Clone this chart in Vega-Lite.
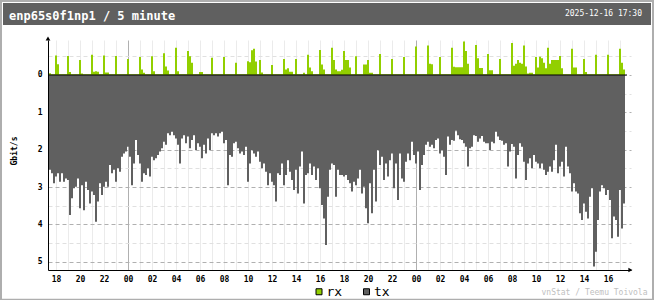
{
"$schema":"https://vega.github.io/schema/vega-lite/v6.json",
"width":583,"height":230,
"autosize":{"type":"none"},
"padding":{"left":48,"top":40,"right":23,"bottom":30},
"background":"white",
"config":{
 "view":{"stroke":null},
 "axis":{"labelFont":"DejaVu Sans Mono","labelFontSize":8,"labelFontWeight":"bold","labelColor":"#000","titleFont":"DejaVu Sans Mono","titleFontSize":8,"domainColor":"#000","domainWidth":1,"ticks":false,"tickSize":0,"labelOverlap":false,"labelFlush":false},
 "axisX":{"labelOverlap":false,"labelFlush":false,"labelPadding":5,"grid":true,"gridWidth":1,"tickCount":100}
},
"data":{"values":[
{"min":-395,"rx":0.05,"tx":2.54},{"min":-385,"rx":0.02,"tx":2.63},{"min":-375,"rx":0.02,"tx":2.90},{"min":-365,"rx":0.52,"tx":2.72},{"min":-355,"rx":0.29,"tx":2.63},{"min":-345,"rx":0.02,"tx":2.86},{"min":-335,"rx":0.02,"tx":2.63},{"min":-325,"rx":0.02,"tx":2.86},{"min":-315,"rx":0.02,"tx":2.77},{"min":-305,"rx":0.51,"tx":2.81},
{"min":-295,"rx":0.08,"tx":3.75},{"min":-285,"rx":0.02,"tx":3.30},{"min":-275,"rx":0.02,"tx":3.03},{"min":-265,"rx":0.02,"tx":2.99},{"min":-255,"rx":0.02,"tx":2.77},{"min":-245,"rx":0.40,"tx":3.57},{"min":-235,"rx":0.04,"tx":2.95},{"min":-225,"rx":0.02,"tx":3.62},{"min":-215,"rx":0.02,"tx":2.86},{"min":-205,"rx":0.02,"tx":3.08},
{"min":-195,"rx":0.02,"tx":3.44},{"min":-185,"rx":0.54,"tx":3.12},{"min":-175,"rx":0.09,"tx":3.21},{"min":-165,"rx":0.10,"tx":3.93},{"min":-155,"rx":0.09,"tx":3.39},{"min":-145,"rx":0.02,"tx":2.90},{"min":-135,"rx":0.02,"tx":3.21},{"min":-125,"rx":0.52,"tx":2.99},{"min":-115,"rx":0.07,"tx":2.86},{"min":-105,"rx":0.07,"tx":2.99},
{"min":-95,"rx":0.02,"tx":2.41},{"min":-85,"rx":0.02,"tx":2.63},{"min":-75,"rx":0.02,"tx":2.54},{"min":-65,"rx":0.51,"tx":2.86},{"min":-55,"rx":0.02,"tx":2.50},{"min":-45,"rx":0.02,"tx":2.59},{"min":-35,"rx":0.02,"tx":2.19},{"min":-25,"rx":0.02,"tx":2.10},{"min":-15,"rx":0.02,"tx":2.05},{"min":-5,"rx":0.43,"tx":1.92},
{"min":5,"rx":0.02,"tx":2.19},{"min":15,"rx":0.02,"tx":2.95},{"min":25,"rx":0.02,"tx":2.37},{"min":35,"rx":0.02,"tx":1.74},{"min":45,"rx":0.02,"tx":2.14},{"min":55,"rx":0.48,"tx":2.37},{"min":65,"rx":0.15,"tx":2.86},{"min":75,"rx":0.06,"tx":2.63},{"min":85,"rx":0.02,"tx":2.68},{"min":95,"rx":0.02,"tx":2.50},
{"min":105,"rx":0.02,"tx":2.72},{"min":115,"rx":0.50,"tx":2.19},{"min":125,"rx":0.10,"tx":2.28},{"min":135,"rx":0.02,"tx":2.23},{"min":145,"rx":0.02,"tx":2.14},{"min":155,"rx":0.02,"tx":2.05},{"min":165,"rx":0.02,"tx":1.96},{"min":175,"rx":0.58,"tx":1.79},{"min":185,"rx":0.23,"tx":1.87},{"min":195,"rx":0.12,"tx":1.56},
{"min":205,"rx":0.02,"tx":1.61},{"min":215,"rx":0.02,"tx":1.52},{"min":225,"rx":0.02,"tx":1.61},{"min":235,"rx":0.73,"tx":1.70},{"min":245,"rx":0.10,"tx":1.87},{"min":255,"rx":0.02,"tx":2.37},{"min":265,"rx":0.02,"tx":1.70},{"min":275,"rx":0.02,"tx":1.61},{"min":285,"rx":0.02,"tx":1.83},{"min":295,"rx":0.64,"tx":1.65},
{"min":305,"rx":0.50,"tx":1.96},{"min":315,"rx":0.33,"tx":1.74},{"min":325,"rx":0.02,"tx":1.61},{"min":335,"rx":0.02,"tx":2.01},{"min":345,"rx":0.02,"tx":1.83},{"min":355,"rx":0.08,"tx":1.92},{"min":365,"rx":0.08,"tx":2.23},{"min":375,"rx":0.02,"tx":1.87},{"min":385,"rx":0.02,"tx":2.10},{"min":395,"rx":0.02,"tx":1.70},
{"min":405,"rx":0.02,"tx":2.01},{"min":415,"rx":0.46,"tx":1.56},{"min":425,"rx":0.02,"tx":1.61},{"min":435,"rx":0.02,"tx":1.56},{"min":445,"rx":0.02,"tx":1.65},{"min":455,"rx":0.02,"tx":1.56},{"min":465,"rx":0.02,"tx":1.52},{"min":475,"rx":0.48,"tx":1.83},{"min":485,"rx":0.02,"tx":1.74},{"min":495,"rx":0.02,"tx":2.95},
{"min":505,"rx":0.02,"tx":2.14},{"min":515,"rx":0.02,"tx":2.19},{"min":525,"rx":0.02,"tx":1.83},{"min":535,"rx":0.33,"tx":1.79},{"min":545,"rx":0.02,"tx":1.96},{"min":555,"rx":0.02,"tx":2.10},{"min":565,"rx":0.02,"tx":2.05},{"min":575,"rx":0.02,"tx":2.14},{"min":585,"rx":0.02,"tx":1.92},{"min":595,"rx":0.37,"tx":2.86},
{"min":605,"rx":0.34,"tx":2.37},{"min":615,"rx":0.66,"tx":2.01},{"min":625,"rx":0.70,"tx":2.10},{"min":635,"rx":0.36,"tx":2.19},{"min":645,"rx":0.02,"tx":2.05},{"min":655,"rx":0.40,"tx":2.32},{"min":665,"rx":0.07,"tx":2.50},{"min":675,"rx":0.02,"tx":2.37},{"min":685,"rx":0.02,"tx":2.59},{"min":695,"rx":0.02,"tx":2.95},
{"min":705,"rx":0.02,"tx":2.63},{"min":715,"rx":0.27,"tx":2.86},{"min":725,"rx":0.02,"tx":2.95},{"min":735,"rx":0.02,"tx":3.39},{"min":745,"rx":0.02,"tx":2.63},{"min":755,"rx":0.02,"tx":2.68},{"min":765,"rx":0.02,"tx":2.37},{"min":775,"rx":0.43,"tx":2.95},{"min":785,"rx":0.15,"tx":2.68},{"min":795,"rx":0.18,"tx":2.28},
{"min":805,"rx":0.09,"tx":2.59},{"min":815,"rx":0.09,"tx":2.81},{"min":825,"rx":0.02,"tx":3.08},{"min":835,"rx":0.43,"tx":2.54},{"min":845,"rx":0.02,"tx":3.17},{"min":855,"rx":0.02,"tx":2.45},{"min":865,"rx":0.02,"tx":2.05},{"min":875,"rx":0.06,"tx":3.44},{"min":885,"rx":0.02,"tx":2.68},{"min":895,"rx":0.54,"tx":2.63},
{"min":905,"rx":0.20,"tx":2.37},{"min":915,"rx":0.10,"tx":2.68},{"min":925,"rx":0.02,"tx":2.45},{"min":935,"rx":0.02,"tx":2.81},{"min":945,"rx":0.02,"tx":2.50},{"min":955,"rx":0.67,"tx":3.03},{"min":965,"rx":0.28,"tx":3.48},{"min":975,"rx":0.15,"tx":3.84},{"min":985,"rx":0.02,"tx":4.55},{"min":995,"rx":0.02,"tx":3.26},
{"min":1005,"rx":0.02,"tx":2.54},{"min":1015,"rx":0.73,"tx":2.37},{"min":1025,"rx":0.40,"tx":2.41},{"min":1035,"rx":0.15,"tx":3.26},{"min":1045,"rx":0.10,"tx":2.54},{"min":1055,"rx":0.10,"tx":2.68},{"min":1065,"rx":0.14,"tx":2.68},{"min":1075,"rx":0.64,"tx":2.72},{"min":1085,"rx":0.40,"tx":2.68},{"min":1095,"rx":0.40,"tx":2.81},
{"min":1105,"rx":0.20,"tx":2.90},{"min":1115,"rx":0.02,"tx":3.12},{"min":1125,"rx":0.02,"tx":2.86},{"min":1135,"rx":0.50,"tx":2.95},{"min":1145,"rx":0.02,"tx":2.77},{"min":1155,"rx":0.02,"tx":2.54},{"min":1165,"rx":0.02,"tx":3.17},{"min":1175,"rx":0.28,"tx":2.99},{"min":1185,"rx":0.28,"tx":3.57},{"min":1195,"rx":0.40,"tx":3.97},
{"min":1205,"rx":0.06,"tx":2.90},{"min":1215,"rx":0.06,"tx":3.70},{"min":1225,"rx":0.02,"tx":2.54},{"min":1235,"rx":0.02,"tx":3.39},{"min":1245,"rx":0.02,"tx":2.01},{"min":1255,"rx":0.56,"tx":2.41},{"min":1265,"rx":0.02,"tx":2.19},{"min":1275,"rx":0.02,"tx":2.81},{"min":1285,"rx":0.02,"tx":2.37},{"min":1295,"rx":0.02,"tx":2.72},
{"min":1305,"rx":0.02,"tx":2.28},{"min":1315,"rx":0.43,"tx":2.10},{"min":1325,"rx":0.02,"tx":3.03},{"min":1335,"rx":0.02,"tx":2.37},{"min":1345,"rx":0.02,"tx":3.35},{"min":1355,"rx":0.02,"tx":2.10},{"min":1365,"rx":0.02,"tx":2.77},{"min":1375,"rx":0.48,"tx":2.86},{"min":1385,"rx":0.02,"tx":2.32},{"min":1395,"rx":0.02,"tx":2.10},
{"min":1405,"rx":0.02,"tx":2.28},{"min":1415,"rx":0.02,"tx":1.79},{"min":1425,"rx":0.02,"tx":2.14},{"min":1435,"rx":0.76,"tx":2.37},{"min":1445,"rx":0.02,"tx":2.05},{"min":1455,"rx":0.02,"tx":3.08},{"min":1465,"rx":0.02,"tx":2.41},{"min":1475,"rx":0.02,"tx":2.14},{"min":1485,"rx":0.02,"tx":1.87},{"min":1495,"rx":0.79,"tx":1.79},
{"min":1505,"rx":0.30,"tx":1.92},{"min":1515,"rx":0.29,"tx":1.87},{"min":1525,"rx":0.02,"tx":1.96},{"min":1535,"rx":0.02,"tx":1.74},{"min":1545,"rx":0.02,"tx":1.70},{"min":1555,"rx":0.48,"tx":2.10},{"min":1565,"rx":0.02,"tx":2.01},{"min":1575,"rx":0.02,"tx":2.19},{"min":1585,"rx":0.02,"tx":2.68},{"min":1595,"rx":0.02,"tx":1.65},
{"min":1605,"rx":0.02,"tx":1.87},{"min":1615,"rx":0.73,"tx":1.74},{"min":1625,"rx":0.22,"tx":1.76},{"min":1635,"rx":0.21,"tx":1.49},{"min":1645,"rx":0.21,"tx":1.61},{"min":1655,"rx":0.21,"tx":1.72},{"min":1665,"rx":0.21,"tx":1.74},{"min":1675,"rx":0.90,"tx":1.83},{"min":1685,"rx":0.64,"tx":1.92},{"min":1695,"rx":0.30,"tx":2.45},
{"min":1705,"rx":0.02,"tx":1.96},{"min":1715,"rx":0.02,"tx":1.92},{"min":1725,"rx":0.02,"tx":1.61},{"min":1735,"rx":0.80,"tx":1.63},{"min":1745,"rx":0.45,"tx":1.79},{"min":1755,"rx":0.19,"tx":1.70},{"min":1765,"rx":0.19,"tx":1.63},{"min":1775,"rx":0.02,"tx":1.79},{"min":1785,"rx":0.02,"tx":1.83},{"min":1795,"rx":0.56,"tx":1.83},
{"min":1805,"rx":0.13,"tx":2.01},{"min":1815,"rx":0.13,"tx":1.79},{"min":1825,"rx":0.02,"tx":1.83},{"min":1835,"rx":0.02,"tx":1.52},{"min":1845,"rx":0.02,"tx":1.65},{"min":1855,"rx":0.43,"tx":1.74},{"min":1865,"rx":0.02,"tx":1.76},{"min":1875,"rx":0.02,"tx":1.87},{"min":1885,"rx":0.02,"tx":1.83},{"min":1895,"rx":0.02,"tx":2.45},
{"min":1905,"rx":0.02,"tx":2.05},{"min":1915,"rx":0.86,"tx":1.85},{"min":1925,"rx":0.25,"tx":1.92},{"min":1935,"rx":0.30,"tx":2.77},{"min":1945,"rx":0.40,"tx":2.14},{"min":1955,"rx":0.33,"tx":1.83},{"min":1965,"rx":0.30,"tx":1.92},{"min":1975,"rx":0.79,"tx":2.32},{"min":1985,"rx":0.23,"tx":2.81},{"min":1995,"rx":0.04,"tx":2.37},
{"min":2005,"rx":0.06,"tx":2.23},{"min":2015,"rx":0.06,"tx":2.50},{"min":2025,"rx":0.02,"tx":2.14},{"min":2035,"rx":0.48,"tx":2.32},{"min":2045,"rx":0.20,"tx":2.37},{"min":2055,"rx":0.49,"tx":2.50},{"min":2065,"rx":0.45,"tx":2.37},{"min":2075,"rx":0.33,"tx":2.54},{"min":2085,"rx":0.18,"tx":2.68},{"min":2095,"rx":0.73,"tx":2.59},
{"min":2105,"rx":0.30,"tx":2.45},{"min":2115,"rx":0.40,"tx":2.59},{"min":2125,"rx":0.40,"tx":2.28},{"min":2135,"rx":0.40,"tx":1.87},{"min":2145,"rx":0.40,"tx":2.63},{"min":2155,"rx":0.51,"tx":2.45},{"min":2165,"rx":0.18,"tx":2.32},{"min":2175,"rx":0.02,"tx":2.72},{"min":2185,"rx":0.02,"tx":1.92},{"min":2195,"rx":0.02,"tx":2.45},
{"min":2205,"rx":0.02,"tx":2.63},{"min":2215,"rx":0.70,"tx":3.12},{"min":2225,"rx":0.20,"tx":2.90},{"min":2235,"rx":0.20,"tx":3.12},{"min":2245,"rx":0.02,"tx":3.17},{"min":2255,"rx":0.02,"tx":3.70},{"min":2265,"rx":0.02,"tx":3.88},{"min":2275,"rx":0.43,"tx":3.44},{"min":2285,"rx":0.08,"tx":3.66},{"min":2295,"rx":0.02,"tx":3.84},
{"min":2305,"rx":0.02,"tx":3.26},{"min":2315,"rx":0.02,"tx":3.03},{"min":2325,"rx":0.02,"tx":5.13},{"min":2335,"rx":0.54,"tx":4.73},{"min":2345,"rx":0.02,"tx":3.88},{"min":2355,"rx":0.02,"tx":3.12},{"min":2365,"rx":0.02,"tx":2.95},{"min":2375,"rx":0.02,"tx":3.03},{"min":2385,"rx":0.02,"tx":3.21},{"min":2395,"rx":0.54,"tx":3.08},
{"min":2405,"rx":0.02,"tx":3.35},{"min":2415,"rx":0.02,"tx":4.37},{"min":2425,"rx":0.02,"tx":3.79},{"min":2435,"rx":0.02,"tx":3.88},{"min":2445,"rx":0.02,"tx":4.33},{"min":2455,"rx":0.70,"tx":3.08},{"min":2465,"rx":0.33,"tx":4.11},{"min":2475,"rx":0.15,"tx":3.44},{"min":2485,"rx":0.15,"tx":3.44}
]},
"layer":[
 {"layer":[
  {"data":{"values":[{}]},
   "mark":{"type":"rect","filled":false,"stroke":"#AEAEAE","strokeWidth":2,"clip":false},
   "encoding":{
    "x":{"datum":-635,"type":"quantitative","scale":{"domain":[-400,2515],"nice":false,"zero":false}},
    "x2":{"datum":2625},
    "y":{"datum":1.984,"type":"quantitative","scale":{"domain":[-5.221,0.937],"nice":false,"zero":false},"axis":null},
    "y2":{"datum":-6.016}}},
  {"data":{"values":[{}]},
   "mark":{"type":"rect","fill":"#606060","clip":false},
   "encoding":{
    "x":{"datum":-625,"type":"quantitative","scale":{"domain":[-400,2515],"nice":false,"zero":false}},
    "x2":{"datum":2615},
    "y":{"datum":1.928,"type":"quantitative","scale":{"domain":[-5.221,0.937],"nice":false,"zero":false},"axis":null},
    "y2":{"datum":1.339}}},
  {"data":{"values":[{"label":"enp65s0f1np1 / 5 minute"}]},
   "mark":{"type":"text","align":"left","baseline":"alphabetic","font":"DejaVu Sans Mono","fontSize":12,"fontWeight":"bold","color":"white","clip":false},
   "encoding":{
    "text":{"field":"label"},
    "x":{"datum":-595,"type":"quantitative","scale":{"domain":[-400,2515],"nice":false,"zero":false}},
    "y":{"datum":1.4725,"type":"quantitative","scale":{"domain":[-5.221,0.937],"nice":false,"zero":false},"axis":null}}},
  {"data":{"values":[{"label":"2025-12-16 17:30"}]},
   "mark":{"type":"text","align":"right","baseline":"middle","font":"DejaVu Sans Mono","fontSize":8,"color":"white","clip":false},
   "encoding":{
    "text":{"field":"label"},
    "x":{"datum":2570,"type":"quantitative","scale":{"domain":[-400,2515],"nice":false,"zero":false}},
    "y":{"datum":1.633,"type":"quantitative","scale":{"domain":[-5.221,0.937],"nice":false,"zero":false},"axis":null}}},
  {"mark":{"type":"area","interpolate":"step-after","opacity":1},
   "encoding":{
    "x":{"field":"min","type":"quantitative","scale":{"domain":[-400,2515],"nice":false,"zero":false}},
    "y":{"field":"rx","type":"quantitative","scale":{"domain":[-5.221,0.937],"nice":false,"zero":false},"axis":null},
    "y2":{"datum":0},
    "color":{"datum":"rx","type":"nominal","scale":{"domain":["rx","tx"],"range":["#92CF00","#606060"]},
      "legend":{"title":null,"orient":"none","legendX":264.5,"legendY":245,"direction":"horizontal","symbolType":"square","symbolSize":36,"symbolStrokeColor":"#000","symbolStrokeWidth":1,"symbolOpacity":1,"labelFont":"DejaVu Sans Mono","labelFontSize":13,"labelColor":"#000","labelOffset":1,"columnPadding":17.5}}}}
 ]},
 {"mark":{"type":"area","interpolate":"step-after","opacity":1},
  "encoding":{
   "x":{"field":"min","type":"quantitative","scale":{"domain":[-400,2515],"nice":false,"zero":false},
     "axis":{"values":[-360,-300,-240,-180,-120,-60,0,60,120,180,240,300,360,420,480,540,600,660,720,780,840,900,960,1020,1080,1140,1200,1260,1320,1380,1440,1500,1560,1620,1680,1740,1800,1860,1920,1980,2040,2100,2160,2220,2280,2340,2400,2460],
      "tickCount":100,
      "labelExpr":"(datum.value + 360) % 120 === 0 ? format((((datum.value/60)%24)+24)%24, '02d') : ''",
      "labelOverlap":false,"labelFlush":false,"labelPadding":5,"labelBaseline":"top",
      "grid":true,"gridWidth":1,"gridColor":{"condition":{"test":"datum.value % 1440 === 0","value":"#b0b0b0"},"value":"#ebebeb"},
      "title":"vnStat / Teemu Toivola","titleX":599,"titleY":24.5,"titleAlign":"right","titleBaseline":"alphabetic","titleAngle":0,"titleColor":"#c0c0c0","titleFontWeight":"normal","titleFontSize":8}},
   "y":{"field":"tx","type":"quantitative","scale":{"domain":[-0.937,5.221],"reverse":true,"nice":false,"zero":false},
     "axis":{"values":[-0.5,0,0.5,1,1.5,2,2.5,3,3.5,4,4.5,5],
      "tickCount":50,
      "labelExpr":"datum.value >= 0 && datum.value % 1 === 0 ? format(datum.value, 'd') : ''",
      "labelOverlap":false,"labelFlush":false,"labelPadding":6,
      "grid":true,"gridDash":[4,3],"gridWidth":1,"gridColor":{"condition":{"test":"datum.value % 1 === 0","value":"#b0b0b0"},"value":"#e0e0e0"},
      "title":"Gbit/s","titleX":-33.3,"titleY":110.5,"titleAngle":270,"titleAlign":"center","titleBaseline":"middle","titleFontWeight":"bold"}},
   "y2":{"datum":0},
   "color":{"datum":"tx","type":"nominal","scale":{"domain":["rx","tx"],"range":["#92CF00","#606060"]},
      "legend":{"title":null,"orient":"none","legendX":264.5,"legendY":245,"direction":"horizontal","symbolType":"square","symbolSize":36,"symbolStrokeColor":"#000","symbolStrokeWidth":1,"symbolOpacity":1,"labelFont":"DejaVu Sans Mono","labelFontSize":13,"labelColor":"#000","labelOffset":1,"columnPadding":17.5}}}},
 {"layer":[
  {"data":{"values":[{}]},
   "mark":{"type":"rule","color":"#000","strokeWidth":1},
   "encoding":{
    "x":{"datum":-400,"type":"quantitative","scale":{"domain":[-400,2515],"nice":false,"zero":false}},
    "x2":{"datum":2495},
    "y":{"datum":0,"type":"quantitative","scale":{"domain":[-5.221,0.937],"nice":false,"zero":false},"axis":null}}},
  {"data":{"values":[{}]},
   "mark":{"type":"point","shape":"triangle-up","filled":true,"color":"#000","size":22,"opacity":1,"clip":false},
   "encoding":{
    "x":{"datum":-400,"type":"quantitative","scale":{"domain":[-400,2515],"nice":false,"zero":false}},
    "y":{"datum":0.975,"type":"quantitative","scale":{"domain":[-5.221,0.937],"nice":false,"zero":false},"axis":null}}},
  {"data":{"values":[{}]},
   "mark":{"type":"point","shape":"triangle-right","filled":true,"color":"#000","size":22,"opacity":1,"clip":false},
   "encoding":{
    "x":{"datum":2512,"type":"quantitative","scale":{"domain":[-400,2515],"nice":false,"zero":false}},
    "y":{"datum":-5.221,"type":"quantitative","scale":{"domain":[-5.221,0.937],"nice":false,"zero":false},"axis":null}}}
 ]}
],
"resolve":{"scale":{"y":"independent"},"axis":{"y":"independent"}}
}
